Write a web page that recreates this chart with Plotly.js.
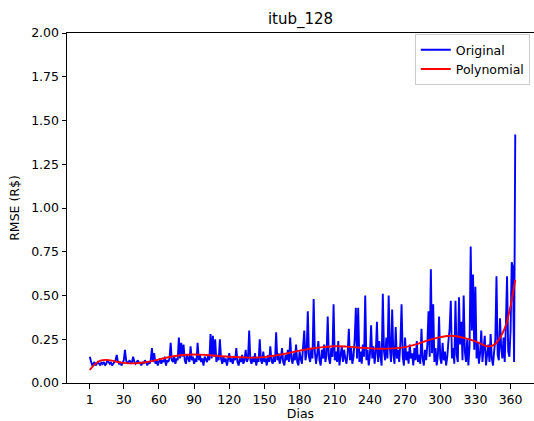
<!DOCTYPE html>
<html>
<head>
<meta charset="utf-8">
<script src="https://cdn.plot.ly/plotly-3.0.1.min.js"></script>
<style>
html,body{margin:0;padding:0;overflow:hidden;background:#fff;}
#chart{width:534px;height:421px;}
</style>
</head>
<body>
<div id="chart"></div>
<script>
// RMSE per day (Original series), days 1..364
const originalValues = [
  0.15,0.12,0.10,0.11,0.12,0.10,0.11,0.12,0.11,0.10,
  0.12,0.11,0.12,0.10,0.11,0.13,0.12,0.11,0.12,0.10,
  0.11,0.12,0.13,0.16,0.12,0.11,0.12,0.10,0.12,0.13,
  0.19,0.13,0.11,0.12,0.13,0.11,0.12,0.15,0.12,0.11,
  0.12,0.13,0.11,0.12,0.10,0.12,0.11,0.13,0.12,0.10,
  0.12,0.11,0.13,0.20,0.12,0.17,0.11,0.13,0.10,0.12,
  0.14,0.11,0.13,0.12,0.15,0.10,0.13,0.12,0.14,0.23,
  0.13,0.12,0.15,0.11,0.14,0.13,0.26,0.14,0.23,0.15,
  0.22,0.13,0.11,0.16,0.14,0.12,0.21,0.13,0.15,0.11,
  0.14,0.12,0.23,0.13,0.16,0.12,0.14,0.10,0.15,0.13,
  0.12,0.16,0.13,0.28,0.14,0.27,0.15,0.25,0.12,0.16,
  0.13,0.25,0.14,0.11,0.15,0.12,0.14,0.10,0.13,0.17,
  0.12,0.14,0.11,0.15,0.13,0.20,0.12,0.10,0.14,0.12,
  0.16,0.11,0.13,0.19,0.12,0.14,0.30,0.13,0.11,0.15,
  0.12,0.17,0.10,0.14,0.12,0.25,0.13,0.11,0.18,0.12,
  0.14,0.10,0.16,0.12,0.21,0.13,0.11,0.15,0.12,0.29,
  0.13,0.17,0.11,0.14,0.20,0.12,0.10,0.16,0.13,0.19,
  0.12,0.26,0.14,0.11,0.17,0.13,0.22,0.12,0.10,0.18,
  0.14,0.11,0.21,0.30,0.13,0.17,0.41,0.15,0.12,0.20,
  0.14,0.48,0.18,0.11,0.16,0.24,0.13,0.10,0.19,0.14,
  0.22,0.12,0.16,0.38,0.14,0.11,0.20,0.15,0.45,0.13,
  0.18,0.12,0.24,0.10,0.16,0.21,0.12,0.19,0.14,0.11,
  0.17,0.31,0.13,0.20,0.11,0.15,0.25,0.43,0.14,0.43,
  0.12,0.18,0.11,0.22,0.15,0.50,0.13,0.19,0.10,0.16,
  0.33,0.14,0.21,0.11,0.17,0.35,0.12,0.24,0.15,0.10,
  0.51,0.18,0.13,0.26,0.14,0.50,0.20,0.12,0.42,0.16,
  0.11,0.32,0.14,0.19,0.12,0.23,0.45,0.15,0.10,0.26,
  0.13,0.18,0.11,0.22,0.14,0.17,0.10,0.20,0.13,0.24,
  0.12,0.16,0.11,0.31,0.14,0.10,0.19,0.13,0.22,0.41,
  0.15,0.65,0.17,0.45,0.12,0.20,0.10,0.16,0.38,0.14,
  0.11,0.23,0.13,0.18,0.10,0.15,0.24,0.31,0.47,0.14,
  0.20,0.11,0.47,0.16,0.12,0.49,0.22,0.35,0.13,0.50,
  0.18,0.12,0.25,0.10,0.21,0.78,0.30,0.62,0.19,0.55,
  0.14,0.23,0.11,0.17,0.30,0.12,0.20,0.27,0.10,0.15,
  0.22,0.12,0.28,0.14,0.10,0.18,0.25,0.61,0.16,0.13,
  0.37,0.20,0.14,0.26,0.12,0.33,0.61,0.18,0.15,0.30,
  0.69,0.66,0.12,1.42
];
const originalDays = originalValues.map((v, i) => i + 1);

// Polynomial fit, read at sample days
const polyDays = [1, 5, 10, 15, 20, 25, 30, 35, 40, 50, 60, 70, 80, 90, 100, 110, 120, 130, 140, 150, 160, 170, 180, 190, 200, 210, 220, 230, 240, 250, 260, 270, 280, 290, 300, 310, 320, 330, 340, 344, 348, 352, 356, 360, 364];
const polyValues = [0.075, 0.105, 0.128, 0.132, 0.128, 0.12, 0.115, 0.112, 0.113, 0.12, 0.135, 0.15, 0.16, 0.163, 0.16, 0.155, 0.15, 0.147, 0.145, 0.148, 0.158, 0.17, 0.185, 0.197, 0.205, 0.21, 0.208, 0.203, 0.198, 0.196, 0.198, 0.205, 0.222, 0.245, 0.262, 0.27, 0.258, 0.238, 0.21, 0.212, 0.23, 0.27, 0.33, 0.44, 0.59];

const xTicks = [1, 30, 60, 90, 120, 150, 180, 210, 240, 270, 300, 330, 360];
const yTicks = [0, 0.25, 0.5, 0.75, 1.0, 1.25, 1.5, 1.75, 2.0];

const font = 'DejaVu Sans, sans-serif';

const traces = [
  {x: originalDays, y: originalValues, type: 'scatter', mode: 'lines', name: 'Original',
   line: {color: '#0000ff', width: 1.9}},
  {x: polyDays, y: polyValues, type: 'scatter', mode: 'lines', name: 'Polynomial',
   line: {color: '#ff0000', width: 1.9, shape: 'spline', smoothing: 1}}
];

const axisCommon = {
  showline: true, mirror: true, linecolor: '#000', linewidth: 1,
  ticks: 'outside', ticklen: 4.5, tickwidth: 1, tickcolor: '#000',
  showgrid: false, zeroline: false,
  tickfont: {family: font, size: 12.5, color: '#000'}
};

const layout = {
  width: 534, height: 421,
  margin: {l: 67, r: 0, t: 33, b: 38},
  paper_bgcolor: '#fff', plot_bgcolor: '#fff',
  font: {family: font, color: '#000'},
  title: {text: 'itub_128', font: {family: font, size: 15, color: '#000'},
          xref: 'paper', x: 0.5, xanchor: 'center', yref: 'container', y: 1 - 19/421, yanchor: 'middle'},
  xaxis: Object.assign({}, axisCommon, {
    range: [-18.45, 380], tickvals: xTicks, ticktext: xTicks.map(String),
    title: {text: 'Dias', font: {family: font, size: 12.5, color: '#000'}, standoff: 6}
  }),
  yaxis: Object.assign({}, axisCommon, {
    range: [0, 2], tickvals: yTicks, ticktext: yTicks.map(v => v.toFixed(2)),
    title: {text: 'RMSE (R$)', font: {family: font, size: 12.5, color: '#000'}, standoff: 8}
  }),
  showlegend: true,
  legend: {x: 0.991, xanchor: 'right', y: 0.997, yanchor: 'top',
           bgcolor: 'rgba(255,255,255,0.8)', bordercolor: '#cccccc', borderwidth: 1,
           font: {family: font, size: 12.5, color: '#000'}, itemwidth: 30, tracegroupgap: 0}
};

Plotly.newPlot('chart', traces, layout, {displayModeBar: false, staticPlot: true});
</script>
</body>
</html>
